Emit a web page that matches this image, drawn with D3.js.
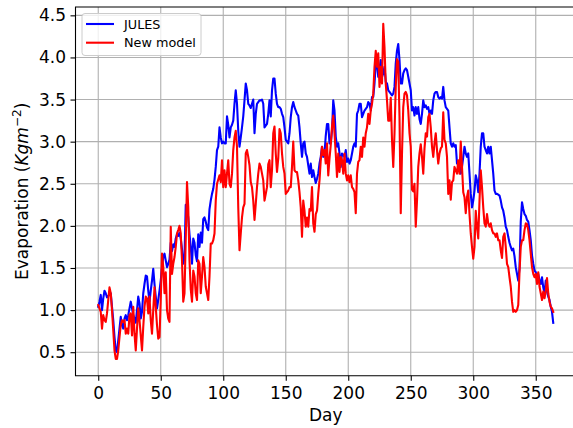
<!DOCTYPE html>
<html>
<head>
<meta charset="utf-8">
<script src="https://cdn.jsdelivr.net/npm/d3@7"></script>
<style>
  body { margin: 0; background: #fff; }
  svg { display: block; font-family: "DejaVu Sans", sans-serif; }
</style>
</head>
<body>
<svg id="chart" width="573" height="428"></svg>
<script>
/* Daily evaporation values */
const julesEvap = [
  1.04,1.10,1.18,1.00,1.14,1.23,1.20,1.15,1.17,1.18,
  1.20,1.04,0.88,0.68,0.52,0.50,0.64,0.78,0.92,0.82,
  0.78,0.90,0.94,0.88,0.94,1.02,1.10,1.02,0.94,0.90,
  0.85,1.00,1.16,1.08,0.90,0.98,1.20,1.31,1.41,1.40,
  1.23,1.10,1.23,1.35,1.49,1.31,1.16,1.02,1.12,1.23,
  1.35,1.51,1.63,1.67,1.59,1.51,1.55,1.60,1.80,1.70,
  1.78,1.75,1.85,1.90,1.88,1.92,1.85,1.72,1.55,1.62,
  2.25,2.20,2.10,1.90,1.75,1.55,1.85,1.80,1.65,1.58,
  1.90,1.75,1.92,1.80,2.08,2.10,2.05,1.98,1.95,2.20,
  2.30,2.38,2.44,2.55,2.70,2.90,2.94,3.17,3.05,2.98,
  3.00,2.98,2.98,3.30,3.20,3.05,3.17,3.20,3.25,3.45,
  3.61,3.45,3.13,2.94,3.05,3.17,3.30,3.49,3.69,3.61,
  3.45,3.43,3.40,3.45,3.50,3.10,3.33,3.45,3.47,3.49,
  3.49,3.50,3.45,3.17,3.19,3.21,3.33,3.49,3.30,3.61,
  3.75,3.75,3.57,3.45,3.41,3.41,3.39,3.33,3.29,3.17,
  3.02,3.00,2.98,3.10,3.29,3.41,3.47,3.41,3.37,3.33,
  3.31,3.17,2.98,2.82,2.98,3.00,2.86,2.82,2.72,2.62,
  2.74,2.58,2.66,2.58,2.51,2.56,2.62,2.74,2.82,2.94,
  2.82,2.86,3.07,3.21,3.21,2.98,2.98,3.13,3.49,3.37,
  3.06,2.94,2.98,2.86,2.70,2.86,2.84,2.82,2.90,2.76,
  2.80,2.74,2.78,2.86,2.94,2.98,2.94,3.33,3.37,3.45,
  3.45,3.29,3.33,3.37,3.39,3.41,3.47,3.45,3.37,3.53,
  3.53,3.69,3.93,3.93,3.77,3.87,3.97,3.77,3.81,3.89,
  3.71,3.69,3.61,3.59,3.57,3.55,3.57,3.65,3.93,4.08,
  4.16,3.97,3.69,3.69,3.81,3.85,3.87,3.85,3.77,3.69,
  3.61,3.37,3.41,3.31,3.41,3.33,3.41,3.27,3.21,3.33,
  3.49,3.41,3.43,3.39,3.41,3.33,3.37,3.33,3.49,3.57,
  3.59,3.59,3.53,3.51,3.53,3.51,3.65,3.49,3.41,3.39,
  3.37,3.17,2.98,2.94,2.98,2.94,2.96,2.74,2.74,2.72,
  2.62,2.70,2.82,2.94,2.86,2.82,2.86,2.62,2.38,2.22,
  2.30,2.42,2.60,2.54,2.40,2.62,2.94,3.10,3.10,2.94,
  2.90,2.86,2.94,2.86,2.94,2.78,2.62,2.42,2.38,2.38,
  2.37,2.36,2.30,2.22,2.18,2.10,1.99,1.95,1.87,1.80,
  1.75,1.71,1.73,1.64,1.51,1.43,1.35,1.50,2.05,2.28,
  2.20,2.14,2.12,2.07,2.05,1.95,1.83,1.65,1.55,1.47,
  1.45,1.39,1.43,1.35,1.31,1.39,1.27,1.20,1.35,1.22,
  1.16,1.12,1.04,0.98,0.85
];

const newModelEvap = [
  1.06,1.02,0.98,0.78,0.94,0.88,0.86,0.96,1.12,1.27,
  1.20,1.00,0.76,0.52,0.42,0.42,0.52,0.68,0.82,0.88,
  0.86,0.88,0.72,0.78,0.72,0.94,0.96,0.70,1.04,0.72,
  0.52,0.78,1.02,0.88,0.70,0.52,0.80,1.04,1.16,1.14,
  0.96,1.16,0.88,0.72,1.00,1.27,1.04,0.82,0.66,0.68,
  1.12,1.67,1.51,1.20,1.45,1.00,0.90,0.86,1.99,1.43,
  1.55,1.63,1.75,1.91,1.95,2.00,1.91,1.59,1.10,1.20,
  1.85,2.52,2.22,1.59,1.25,1.10,1.47,1.40,1.20,1.12,
  1.59,1.55,1.20,1.40,1.63,1.51,1.28,1.20,1.12,1.40,
  1.79,1.79,1.83,1.91,2.30,2.50,2.55,2.60,2.52,2.78,
  2.46,2.66,2.46,2.62,2.78,2.50,2.46,2.62,2.90,3.05,
  3.13,2.94,2.22,1.71,1.91,2.10,2.22,2.26,2.86,2.90,
  2.82,2.72,2.52,2.46,2.30,2.07,2.26,2.46,2.62,2.74,
  2.70,2.62,2.54,2.30,2.38,2.46,2.73,2.78,2.46,2.66,
  3.10,3.18,2.86,2.64,2.80,3.15,3.10,2.86,2.70,2.62,
  2.38,2.40,2.42,2.46,2.46,2.70,3.00,2.66,2.64,2.64,
  2.54,2.40,2.22,1.87,2.30,2.18,1.99,2.10,1.99,2.20,
  2.18,2.46,2.03,1.93,2.14,2.18,2.38,2.54,2.78,2.94,
  2.84,2.90,2.74,2.98,2.60,2.80,2.96,3.18,3.31,3.10,
  2.86,2.58,2.86,2.64,2.82,2.78,2.62,2.86,2.62,2.54,
  2.60,2.52,2.60,2.46,2.44,2.40,2.15,2.62,2.76,2.78,
  2.94,2.82,3.05,2.94,3.10,3.17,3.33,3.21,3.37,3.45,
  3.57,3.89,4.08,3.89,4.05,3.65,3.89,3.69,4.40,4.12,
  3.69,3.49,3.25,3.25,3.52,3.02,2.70,3.10,3.65,3.98,
  3.95,3.29,2.15,2.86,3.41,3.57,3.59,3.55,3.37,3.10,
  2.94,2.43,2.41,2.50,1.99,2.30,2.70,2.86,2.97,2.82,
  2.62,2.92,3.10,3.06,3.29,3.33,3.17,2.94,2.82,2.98,
  3.10,2.90,2.74,2.86,2.92,2.94,3.35,3.02,2.98,2.82,
  2.38,2.54,2.31,2.52,2.54,2.70,2.66,2.62,2.78,2.62,
  3.00,2.70,2.40,2.34,2.15,2.34,2.42,2.14,1.91,1.75,
  1.61,1.75,2.18,1.99,1.85,2.30,2.66,2.46,2.22,2.03,
  1.99,2.14,2.03,1.99,2.03,1.95,1.91,1.91,1.87,1.91,
  1.83,1.83,1.71,1.62,1.87,1.91,1.75,1.55,1.51,1.39,
  1.28,1.10,0.98,1.00,0.98,1.00,1.06,1.45,1.75,1.83,
  1.83,1.95,2.03,2.02,1.95,1.83,1.67,1.51,1.43,1.39,
  1.43,1.31,1.45,1.28,1.20,1.12,1.22,1.14,1.22,1.38,
  1.20,1.10,1.04,1.02,0.98
];

const seriesNames = ["JULES", "New model"];
const seriesColors = ["#0000ff", "#ff0000"];
const xTicks = [0, 50, 100, 150, 200, 250, 300, 350];
const yTicks = [0.5, 1.0, 1.5, 2.0, 2.5, 3.0, 3.5, 4.0, 4.5];

// Plot box in pixels (the right edge runs just past the picture, as in the original)
const plot = { left: 75.5, right: 576, top: 7, bottom: 375.7 };

const svg = d3.select("#chart");
svg.append("rect").attr("width", 573).attr("height", 428).attr("fill", "#fff");

const series = [julesEvap, newModelEvap].map((values, i) => ({
  name: seriesNames[i],
  color: seriesColors[i],
  points: values.map((v, day) => ({ day, v }))
}));

// matplotlib style 5% margins around the data
const allPoints = series.flatMap(s => s.points);
const dayExtent = d3.extent(allPoints, d => d.day);
const valExtent = d3.extent(allPoints, d => d.v);
const dayPad = (dayExtent[1] - dayExtent[0]) * 0.05;
const valPad = (valExtent[1] - valExtent[0]) * 0.05;

const x = d3.scaleLinear()
  .domain([dayExtent[0] - dayPad, dayExtent[1] + dayPad])
  .range([plot.left, plot.right]);
const y = d3.scaleLinear()
  .domain([valExtent[0] - valPad, valExtent[1] + valPad])
  .range([plot.bottom, plot.top]);

svg.append("clipPath").attr("id", "plot-clip")
  .append("rect")
  .attr("x", plot.left).attr("y", plot.top)
  .attr("width", plot.right - plot.left).attr("height", plot.bottom - plot.top);

// Grid
const grid = svg.append("g").attr("stroke", "#b0b0b0").attr("stroke-width", 1.1);
grid.selectAll("line.gx").data(xTicks).join("line")
  .attr("class", "gx")
  .attr("x1", d => x(d)).attr("x2", d => x(d))
  .attr("y1", plot.top).attr("y2", plot.bottom);
grid.selectAll("line.gy").data(yTicks).join("line")
  .attr("class", "gy")
  .attr("x1", plot.left).attr("x2", plot.right)
  .attr("y1", d => y(d)).attr("y2", d => y(d));

// Lines
const line = d3.line().x(d => x(d.day)).y(d => y(d.v));
svg.append("g").attr("clip-path", "url(#plot-clip)")
  .selectAll("path").data(series).join("path")
  .attr("fill", "none")
  .attr("stroke", d => d.color)
  .attr("stroke-width", 2.1)
  .attr("stroke-linejoin", "round")
  .attr("stroke-linecap", "square")
  .attr("d", d => line(d.points));

// Axes
const xAxis = svg.append("g")
  .attr("transform", `translate(0,${plot.bottom})`)
  .call(d3.axisBottom(x).tickValues(xTicks).tickFormat(d3.format("d")).tickSize(5).tickPadding(6));
const yAxis = svg.append("g")
  .attr("transform", `translate(${plot.left},0)`)
  .call(d3.axisLeft(y).tickValues(yTicks).tickFormat(d3.format(".1f")).tickSize(5).tickPadding(4.5));
[xAxis, yAxis].forEach(axis => {
  axis.select(".domain").remove();
  axis.selectAll(".tick line").attr("stroke", "#000").attr("stroke-width", 1.1);
  axis.selectAll(".tick text")
    .attr("fill", "#000")
    .style("font-family", "'DejaVu Sans', sans-serif")
    .style("font-size", "17px");
});

// Spines (left, top, bottom; right one falls outside the picture)
const spines = svg.append("g").attr("stroke", "#000").attr("stroke-width", 1.1).attr("fill", "none");
spines.append("path")
  .attr("d", `M${plot.right},${plot.top}H${plot.left}V${plot.bottom}H${plot.right}`);

// Axis labels
svg.append("text")
  .attr("x", (plot.left + plot.right) / 2)
  .attr("y", 421)
  .attr("text-anchor", "middle")
  .style("font-size", "17px")
  .text("Day");

const yLabel = svg.append("text")
  .attr("transform", `translate(27.5,${(plot.top + plot.bottom) / 2}) rotate(-90)`)
  .attr("text-anchor", "middle")
  .style("font-size", "17px");
yLabel.append("tspan").text("Evaporation (");
yLabel.append("tspan").style("font-style", "italic").text("Kgm");
yLabel.append("tspan").attr("dy", -7).style("font-size", "12px").text("\u22122");
yLabel.append("tspan").attr("dy", 7).text(")");

// Legend
const legend = svg.append("g");
legend.append("rect")
  .attr("x", 82).attr("y", 13.5)
  .attr("width", 119).attr("height", 42)
  .attr("rx", 3)
  .attr("fill", "#fff").attr("fill-opacity", 0.8)
  .attr("stroke", "#cccccc").attr("stroke-width", 1);
const legendRows = legend.selectAll("g.row").data(series).join("g")
  .attr("class", "row")
  .attr("transform", (d, i) => `translate(0,${24 + i * 18.7})`);
legendRows.append("line")
  .attr("x1", 86).attr("x2", 114)
  .attr("stroke", d => d.color).attr("stroke-width", 2.1);
legendRows.append("text")
  .attr("x", 124).attr("y", 4.7)
  .style("font-size", "12.8px")
  .text(d => d.name);
</script>
</body>
</html>
